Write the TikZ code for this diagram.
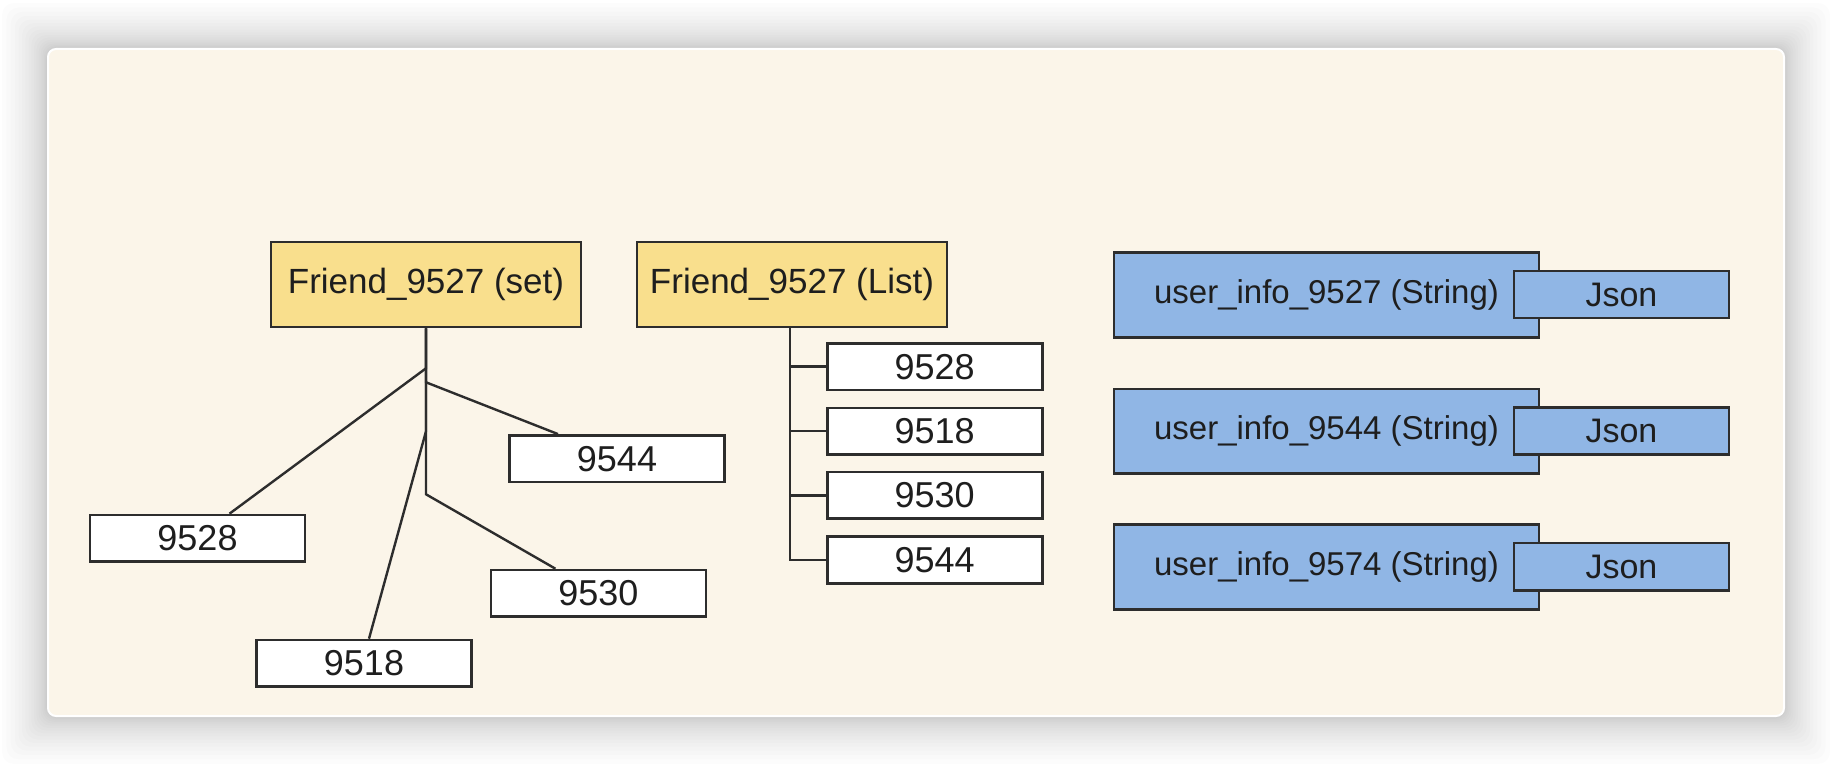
\documentclass[tikz,border=0pt]{standalone}
\usepackage{fontspec}
\setmainfont{Liberation Sans}
\usetikzlibrary{calc}
\definecolor{panelbg}{RGB}{251,245,233}
\definecolor{yellowbox}{RGB}{249,223,141}
\definecolor{bluebox}{RGB}{144,182,229}
\definecolor{edge}{RGB}{45,45,45}
\definecolor{ink}{RGB}{30,30,30}
\begin{document}
\begin{tikzpicture}[x=0.5pt,y=-0.5pt,
  box/.style={draw=edge, line width=1.3pt, inner sep=0pt, text=ink},
  ybox/.style={box, fill=yellowbox, minimum width=155pt, minimum height=42.5pt, font=\fontsize{17.5}{20}\selectfont},
  nbox/.style={box, fill=white, minimum width=107.5pt, minimum height=23.3pt, font=\fontsize{18}{20}\selectfont},
  bbox/.style={box, fill=bluebox, minimum width=212.5pt, minimum height=42.3pt, font=\fontsize{16.5}{20}\selectfont},
  jbox/.style={box, fill=bluebox, minimum width=107.5pt, minimum height=23.5pt, font=\fontsize{17}{20}\selectfont},
  link/.style={draw=edge, line width=1.2pt}]
\useasboundingbox (0,0) rectangle (1832,764);
\fill[white] (0,0) rectangle (1832,764);
% shadow
\foreach \i in {1,...,20}
  \fill[black, opacity=0.011, rounded corners=6pt] (48-0.115*\i*\i,49-0.115*\i*\i) rectangle (1784+0.115*\i*\i,716+0.12*\i*\i);
% panel
\filldraw[fill=panelbg, draw=white, line width=1pt, rounded corners=4pt] (48,49) rectangle (1784,716);

% set tree
\node[ybox] (fset) at (426,284.5) {Friend\_9527 (set)};
\node[nbox] (s9544) at (617,458.7) {9544};
\node[nbox] (s9528) at (197.5,538.3) {9528};
\node[nbox] (s9530) at (598.4,593.3) {9530};
\node[nbox] (s9518) at (364,663.3) {9518};
\draw[link] (fset.south) -- ++(0,40) -- ($(s9528.north)+(32,0)$);
\draw[link] (fset.south) -- ++(0,54) -- ($(s9544.north)+(-59,0)$);
\draw[link] (fset.south) -- ++(0,103) -- ($(s9518.north)+(5,0)$);
\draw[link] (fset.south) -- ++(0,166) -- ($(s9530.north)+(-43,0)$);

% list tree
\node[ybox] (flist) at (792,284.7) {Friend\_9527 (List)};
\node[nbox] (l9528) at (934.7,366.7) {9528};
\node[nbox] (l9518) at (934.7,431.3) {9518};
\node[nbox] (l9530) at (934.7,495.5) {9530};
\node[nbox] (l9544) at (934.7,560) {9544};
\foreach \c in {l9528,l9518,l9530,l9544}
  \draw[link] ($(flist.south)+(-2,0)$) |- (\c.west);

% strings
\node[bbox] (u9527) at (1326.5,295) {user\_info\_9527 (String)};
\node[jbox] (j9527) at (1621.4,294.7) {Json};
\node[bbox] (u9544) at (1326.5,431.3) {user\_info\_9544 (String)};
\node[jbox] (j9544) at (1621.4,431.3) {Json};
\node[bbox] (u9574) at (1326.5,567) {user\_info\_9574 (String)};
\node[jbox] (j9574) at (1621.4,566.7) {Json};
\end{tikzpicture}
\end{document}
